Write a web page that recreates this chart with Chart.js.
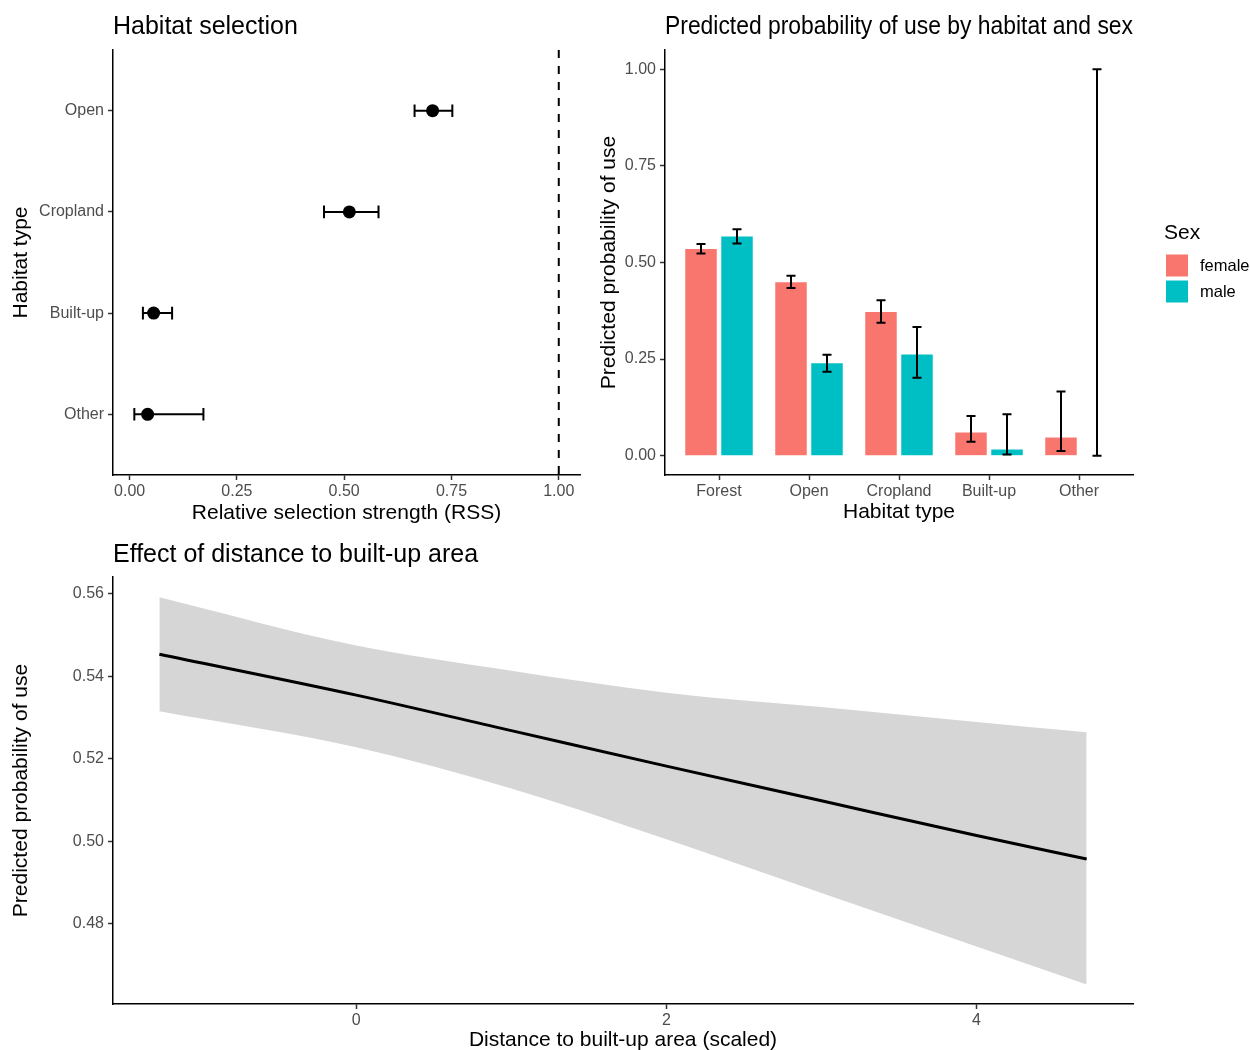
<!DOCTYPE html>
<html lang="en">

<head>
    <meta charset="UTF-8">
    <title>Habitat selection and use</title>
    <script src="https://cdn.jsdelivr.net/npm/chart.js"></script>
    <style>
        body { margin: 0; background: #fff; }
        canvas { position: absolute; }
        #rss-chart { left: 0; top: 0; }
        #use-chart { left: 590px; top: 0; }
        #dist-chart { left: 0; top: 530px; }
    </style>
</head>

<body>
    <canvas id="rss-chart" width="600" height="530"></canvas>
    <canvas id="use-chart" width="660" height="530"></canvas>
    <canvas id="dist-chart" width="1250" height="520"></canvas>

    <script>
        // Habitat selection (RSS with 95% CI)
        const habitats = ['Open', 'Cropland', 'Built-up', 'Other'];
        const rssEstimate = [0.706, 0.512, 0.056, 0.042];
        const rssLower = [0.664, 0.453, 0.031, 0.011];
        const rssUpper = [0.752, 0.580, 0.099, 0.172];
        const rssReference = 1;
        const rssTicks = [0, 0.25, 0.5, 0.75, 1];

        // Predicted probability of use by habitat and sex
        const useHabitats = ['Forest', 'Open', 'Cropland', 'Built-up', 'Other'];
        const sexes = ['female', 'male'];
        const femaleUse = [0.535, 0.449, 0.372, 0.060, 0.047];
        const femaleLower = [0.523, 0.434, 0.344, 0.036, 0.012];
        const femaleUpper = [0.548, 0.466, 0.402, 0.103, 0.166];
        const maleUse = [0.567, 0.239, 0.262, 0.016, 0.000];
        const maleLower = [0.549, 0.217, 0.202, 0.003, 0.000];
        const maleUpper = [0.586, 0.261, 0.333, 0.107, 1.000];
        const useTicks = [0, 0.25, 0.5, 0.75, 1];

        // Distance to built-up area effect
        const distance = [-1.27, 0, 1, 2, 3, 4, 4.71];
        const distFit = [0.5453, 0.5354, 0.5268, 0.5182, 0.5098, 0.5014, 0.4957];
        const distLower = [0.5315, 0.5228, 0.5128, 0.5005, 0.4875, 0.4745, 0.4653];
        const distUpper = [0.5591, 0.5474, 0.5413, 0.5360, 0.5325, 0.5289, 0.5264];
        const distXTicks = [0, 2, 4];
        const distYTicks = [0.48, 0.50, 0.52, 0.54, 0.56];

        const FONT = "'Liberation Sans', Arial, sans-serif";
        const sexColors = ['#F8766D', '#00BFC4'];

        // shared look of the classic axes
        function axis(opts) {
            return Object.assign({
                type: 'linear',
                offset: false,
                border: { display: true, color: '#000', width: 1.5 },
                grid: { display: true, offset: false, drawOnChartArea: false, drawTicks: true, tickLength: 5, tickColor: '#333', tickWidth: 1.5 },
            }, opts);
        }

        function tickStyle(padding, callback) {
            return { color: '#4D4D4D', font: { family: FONT, size: 16 }, padding: padding, autoSkip: false, maxRotation: 0, callback: callback };
        }

        function axisTitle(text, padding) {
            return { display: true, text: text, color: '#000', font: { family: FONT, size: 21, lineHeight: 1 }, padding: padding };
        }

        function fixedTicks(values) {
            return axis => { axis.ticks = values.map(v => ({ value: v })); };
        }

        function panelTitle(text, top, bottom) {
            return {
                display: true, text: text, align: 'start', fullSize: false, color: '#000',
                font: { family: FONT, size: 25, weight: 'normal', lineHeight: 1.2 },
                padding: { top: top, bottom: bottom }
            };
        }

        // ---- panel 1: RSS dot plot ----
        const rssWhiskers = {
            id: 'rssWhiskers',
            beforeDatasetsDraw(chart) {
                const { ctx, chartArea } = chart;
                const x = chart.scales.x, y = chart.scales.y;
                ctx.save();
                ctx.strokeStyle = '#000';
                ctx.lineWidth = 2;
                const xr = x.getPixelForValue(rssReference);
                ctx.setLineDash([8, 8]);
                ctx.beginPath();
                ctx.moveTo(xr, chartArea.top);
                ctx.lineTo(xr, chartArea.bottom);
                ctx.stroke();
                ctx.setLineDash([]);
                const cap = Math.abs(y.getPixelForValue(0.125) - y.getPixelForValue(0));
                habitats.forEach((h, i) => {
                    const yc = y.getPixelForValue(habitats.length - 1 - i);
                    const x0 = x.getPixelForValue(rssLower[i]);
                    const x1 = x.getPixelForValue(rssUpper[i]);
                    ctx.beginPath();
                    ctx.moveTo(x0, yc); ctx.lineTo(x1, yc);
                    ctx.moveTo(x0, yc - cap / 2); ctx.lineTo(x0, yc + cap / 2);
                    ctx.moveTo(x1, yc - cap / 2); ctx.lineTo(x1, yc + cap / 2);
                    ctx.stroke();
                });
                ctx.restore();
            }
        };

        new Chart(document.getElementById('rss-chart'), {
            type: 'scatter',
            data: {
                datasets: [{
                    data: rssEstimate.map((v, i) => ({ x: v, y: habitats.length - 1 - i })),
                    backgroundColor: '#000',
                    borderWidth: 0,
                    pointRadius: 6.5,
                    pointHoverRadius: 6.5
                }]
            },
            options: {
                responsive: false,
                animation: false,
                layout: { padding: { right: 20 } },
                plugins: {
                    legend: { display: false },
                    tooltip: { enabled: false },
                    title: panelTitle('Habitat selection', 12, 8)
                },
                scales: {
                    x: axis({
                        min: -0.0387, max: 1.0495,
                        afterBuildTicks: fixedTicks(rssTicks),
                        afterFit: s => { s.height = 55; },
                        ticks: tickStyle(2, v => v.toFixed(2)),
                        title: axisTitle('Relative selection strength (RSS)', { top: 0, bottom: 6 })
                    }),
                    y: axis({
                        min: -0.6, max: 3.6,
                        afterBuildTicks: fixedTicks(habitats.map((h, i) => i)),
                        afterFit: s => { s.width = 113; },
                        ticks: tickStyle(4, v => habitats[habitats.length - 1 - v]),
                        title: axisTitle('Habitat type', { top: 11, bottom: 0 })
                    })
                }
            },
            plugins: [rssWhiskers]
        });

        // ---- panel 2: grouped bars with CI ----
        const useBounds = [[femaleLower, femaleUpper], [maleLower, maleUpper]];

        const useWhiskers = {
            id: 'useWhiskers',
            afterDatasetsDraw(chart) {
                const { ctx } = chart;
                const x = chart.scales.x, y = chart.scales.y;
                const capHalf = Math.abs(x.getPixelForValue(0.05) - x.getPixelForValue(0));
                ctx.save();
                ctx.strokeStyle = '#000';
                ctx.lineWidth = 2;
                useBounds.forEach((b, d) => {
                    chart.getDatasetMeta(d).data.forEach((bar, i) => {
                        const y0 = y.getPixelForValue(b[0][i]);
                        const y1 = y.getPixelForValue(b[1][i]);
                        ctx.beginPath();
                        ctx.moveTo(bar.x, y0); ctx.lineTo(bar.x, y1);
                        ctx.moveTo(bar.x - capHalf, y0); ctx.lineTo(bar.x + capHalf, y0);
                        ctx.moveTo(bar.x - capHalf, y1); ctx.lineTo(bar.x + capHalf, y1);
                        ctx.stroke();
                    });
                });
                ctx.restore();
            }
        };

        // legend drawn to the right of the panel, "Sex" keys
        const sexLegend = {
            id: 'sexLegend',
            afterDraw(chart) {
                const { ctx, chartArea } = chart;
                const left = chartArea.right + 31;
                const mid = (chartArea.top + chartArea.bottom) / 2;
                ctx.save();
                ctx.fillStyle = '#000';
                ctx.textBaseline = 'middle';
                ctx.textAlign = 'left';
                ctx.font = '21px ' + FONT;
                ctx.fillText('Sex', left, mid - 29);
                ctx.font = '16.5px ' + FONT;
                chart.data.datasets.forEach((ds, i) => {
                    const top = mid - 8 + i * 26;
                    ctx.fillStyle = ds.backgroundColor;
                    ctx.fillRect(left + 2, top, 22, 22);
                    ctx.fillStyle = '#000';
                    ctx.fillText(ds.label, left + 36, top + 11.5);
                });
                ctx.restore();
            }
        };

        new Chart(document.getElementById('use-chart'), {
            type: 'bar',
            data: {
                datasets: [femaleUse, maleUse].map((vals, d) => ({
                    label: sexes[d],
                    data: vals.map((v, i) => ({ x: i, y: v })),
                    backgroundColor: sexColors[d],
                    borderWidth: 0,
                    categoryPercentage: 0.8,
                    barPercentage: 0.875
                }))
            },
            options: {
                responsive: false,
                animation: false,
                layout: { padding: { right: 117 } },
                plugins: {
                    legend: { display: false },
                    tooltip: { enabled: false },
                    title: panelTitle('Predicted probability of use by habitat and sex', 12, 8)
                },
                scales: {
                    x: axis({
                        min: -0.6, max: 4.6,
                        afterBuildTicks: fixedTicks(useHabitats.map((h, i) => i)),
                        afterFit: s => { s.height = 55; },
                        ticks: tickStyle(2, v => useHabitats[v]),
                        title: axisTitle('Habitat type', { top: 0, bottom: 7 })
                    }),
                    y: axis({
                        min: -0.05, max: 1.05,
                        afterBuildTicks: fixedTicks(useTicks),
                        afterFit: s => { s.width = 75; },
                        ticks: tickStyle(4, v => v.toFixed(2)),
                        title: axisTitle('Predicted probability of use', { top: 9, bottom: 0 })
                    })
                }
            },
            plugins: [useWhiskers, sexLegend]
        });

        // ---- panel 3: fitted line with confidence ribbon ----
        new Chart(document.getElementById('dist-chart'), {
            type: 'line',
            data: {
                datasets: [
                    {
                        data: distance.map((d, i) => ({ x: d, y: distFit[i] })),
                        borderColor: '#000',
                        borderWidth: 3,
                        pointRadius: 0,
                        fill: false,
                        cubicInterpolationMode: 'monotone',
                        order: 0
                    },
                    {
                        data: distance.map((d, i) => ({ x: d, y: distUpper[i] })),
                        borderWidth: 0,
                        pointRadius: 0,
                        backgroundColor: '#D6D6D6',
                        fill: '+1',
                        cubicInterpolationMode: 'monotone',
                        order: 1
                    },
                    {
                        data: distance.map((d, i) => ({ x: d, y: distLower[i] })),
                        borderWidth: 0,
                        pointRadius: 0,
                        fill: false,
                        cubicInterpolationMode: 'monotone',
                        order: 1
                    }
                ]
            },
            options: {
                responsive: false,
                animation: false,
                layout: { padding: { right: 117 } },
                plugins: {
                    legend: { display: false },
                    tooltip: { enabled: false },
                    filler: { propagate: false },
                    title: panelTitle('Effect of distance to built-up area', 10, 7)
                },
                scales: {
                    x: axis({
                        min: -1.569, max: 5.009,
                        afterBuildTicks: fixedTicks(distXTicks),
                        afterFit: s => { s.height = 46; },
                        ticks: tickStyle(2, v => String(v)),
                        title: axisTitle('Distance to built-up area (scaled)', { top: 0, bottom: -1 })
                    }),
                    y: axis({
                        min: 0.4606, max: 0.5640,
                        afterBuildTicks: fixedTicks(distYTicks),
                        afterFit: s => { s.width = 113; },
                        ticks: tickStyle(4, v => v.toFixed(2)),
                        title: axisTitle('Predicted probability of use', { top: 11, bottom: 0 })
                    })
                }
            }
        });
    </script>
</body>

</html>
